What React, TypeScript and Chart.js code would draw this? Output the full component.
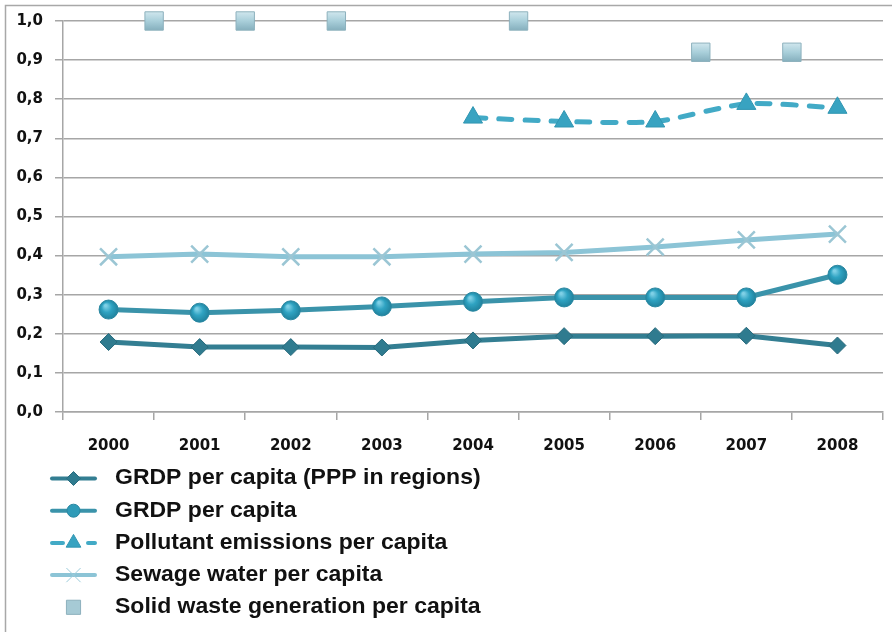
import React, { useEffect, useRef } from 'react';
import { Chart, registerables } from 'chart.js';
import { drawPoint } from 'chart.js/helpers';

Chart.register(...registerables);

// ---- data ----
const years = [2000, 2001, 2002, 2003, 2004, 2005, 2006, 2007, 2008];
const grdpPppValues = [0.179, 0.166, 0.166, 0.165, 0.183, 0.194, 0.194, 0.195, 0.17];
const grdpValues = [0.262, 0.254, 0.26, 0.27, 0.282, 0.293, 0.293, 0.293, 0.351];
const pollutantYears = [2004, 2005, 2006, 2007, 2008];
const pollutantValues = [0.753, 0.743, 0.743, 0.788, 0.778];
const sewageValues = [0.397, 0.404, 0.397, 0.397, 0.404, 0.408, 0.422, 0.44, 0.455];
const solidWasteYears = [2000.5, 2001.5, 2002.5, 2004.5, 2006.5, 2007.5];
const solidWasteValues = [1.0, 1.0, 1.0, 1.0, 0.92, 0.92];
const seriesNames = [
  'GRDP per capita (PPP in regions)',
  'GRDP per capita',
  'Pollutant emissions per capita',
  'Sewage water per capita',
  'Solid waste generation per capita',
];
const yMin = 0;
const yMax = 1;
const yStep = 0.1;

const toPoints = (xs: number[], ys: number[]) => xs.map((x, i) => ({ x, y: ys[i] }));

const W = 892;
const H = 632;

const legendStyles = [
  { color: '#337e92', dash: [] as number[], pointStyle: 'rectRot', radius: 7, fill: '#2f7b8f', border: '#2a6d80', showLine: true },
  { color: '#3a93aa', dash: [] as number[], pointStyle: 'circle', radius: 6.5, fill: '#2f9bb8', border: '#2a88a2', showLine: true },
  { color: '#42aac6', dash: [11, 25], pointStyle: 'triangle', radius: 8.5, fill: '#38a3c1', border: '#3196b2', showLine: true },
  { color: '#8cc4d6', dash: [] as number[], pointStyle: 'crossRot', radius: 10, fill: '#9cccdb', border: '#9cccdb', showLine: true },
  { color: '#a6cad5', dash: [] as number[], pointStyle: 'rect', radius: 10, fill: '#a6cad5', border: '#8db1bd', showLine: false },
];

const pointPixel = (c: any) => {
  const chart = c.chart;
  const p = c.parsed;
  if (!p || !chart || !chart.scales || !chart.scales.x || !chart.scales.y) return null;
  const x = chart.scales.x.getPixelForValue(p.x);
  const y = chart.scales.y.getPixelForValue(p.y);
  if (!Number.isFinite(x) || !Number.isFinite(y)) return null;
  return { x, y };
};

const circleFill = (c: any) => {
  const pp = pointPixel(c);
  if (!pp) return '#2f9bb8';
  const g = c.chart.ctx.createRadialGradient(pp.x - 3, pp.y - 4, 1, pp.x, pp.y, 10);
  g.addColorStop(0, '#7fd0e6');
  g.addColorStop(0.45, '#2fa3c2');
  g.addColorStop(1, '#1f7f9a');
  return g;
};

const squareFill = (c: any) => {
  const pp = pointPixel(c);
  if (!pp) return '#a6cad5';
  const g = c.chart.ctx.createLinearGradient(pp.x, pp.y - 9, pp.x, pp.y + 9);
  g.addColorStop(0, '#cfe6ed');
  g.addColorStop(0.5, '#a9cfda');
  g.addColorStop(1, '#86b0be');
  return g;
};

const framePlugin = {
  id: 'frame',
  beforeDraw(chart: any) {
    const ctx = chart.ctx;
    ctx.save();
    ctx.fillStyle = '#ffffff';
    ctx.fillRect(0, 0, W, H);
    ctx.strokeStyle = '#a8a8a8';
    ctx.lineWidth = 1.5;
    ctx.beginPath();
    ctx.moveTo(5.5, H);
    ctx.lineTo(5.5, 5.5);
    ctx.lineTo(W, 5.5);
    ctx.stroke();
    ctx.restore();
  },
};

const legendPlugin = {
  id: 'vlegend',
  afterDraw(chart: any) {
    const ctx = chart.ctx;
    ctx.save();
    ctx.beginPath();
    ctx.rect(0, 0, W, 618);
    ctx.clip();
    const rowY0 = 478.5;
    const rowGap = 32.2;
    seriesNames.forEach((name, i) => {
      const st = legendStyles[i];
      const y = rowY0 + i * rowGap;
      const x0 = 50;
      const x1 = 97;
      const cx = (x0 + x1) / 2;
      if (st.showLine) {
        ctx.save();
        ctx.strokeStyle = st.color;
        ctx.lineWidth = 4;
        ctx.lineCap = 'round';
        ctx.setLineDash(st.dash);
        ctx.beginPath();
        ctx.moveTo(x0 + 2, y);
        ctx.lineTo(x1 - 2, y);
        ctx.stroke();
        ctx.restore();
      }
      ctx.save();
      ctx.fillStyle = st.fill;
      ctx.strokeStyle = st.border;
      drawPoint(ctx, { pointStyle: st.pointStyle as any, rotation: 0, radius: st.radius, borderWidth: st.pointStyle === 'crossRot' ? 2.5 : 1 }, cx, y);
      ctx.restore();
      ctx.save();
      ctx.fillStyle = '#111111';
      ctx.font = 'bold 21.5px "Liberation Sans", Arial, sans-serif';
      ctx.textBaseline = 'middle';
      ctx.textAlign = 'left';
      ctx.translate(115, y);
      ctx.scale(1.07, 1);
      ctx.fillText(name, 0, 0);
      ctx.restore();
    });
    ctx.restore();
  },
};

export default function App() {
  const canvasRef = useRef<HTMLCanvasElement | null>(null);

  useEffect(() => {
    const canvas = canvasRef.current;
    if (!canvas) return;
    const chart = new Chart(canvas, {
      type: 'line',
      data: {
        datasets: [
          {
            label: seriesNames[0],
            data: toPoints(years, grdpPppValues),
            borderColor: '#337e92',
            borderWidth: 5,
            pointStyle: 'rectRot',
            pointRadius: 8.5,
            pointBackgroundColor: '#2f7b8f',
            pointBorderColor: '#286a7c',
            pointBorderWidth: 1,
            clip: false,
            order: 4,
          },
          {
            label: seriesNames[1],
            data: toPoints(years, grdpValues),
            borderColor: '#3a93aa',
            borderWidth: 5,
            pointStyle: 'circle',
            pointRadius: 9.5,
            pointBackgroundColor: circleFill,
            pointBorderColor: '#2a88a2',
            pointBorderWidth: 1,
            clip: false,
            order: 3,
          },
          {
            label: seriesNames[2],
            data: toPoints(pollutantYears, pollutantValues),
            borderColor: '#42aac6',
            borderWidth: 5,
            borderDash: [13, 13],
            borderCapStyle: 'round',
            tension: 0.25,
            pointStyle: 'triangle',
            pointRadius: 11,
            pointBackgroundColor: '#38a3c1',
            pointBorderColor: '#3196b2',
            pointBorderWidth: 1,
            clip: false,
            order: 2,
          },
          {
            label: seriesNames[3],
            data: toPoints(years, sewageValues),
            borderColor: '#8cc4d6',
            borderWidth: 5,
            pointStyle: 'crossRot',
            pointRadius: 12,
            pointBorderColor: '#9bc6d4',
            pointBackgroundColor: '#9bc6d4',
            pointBorderWidth: 2.5,
            clip: false,
            order: 5,
          },
          {
            label: seriesNames[4],
            data: toPoints(solidWasteYears, solidWasteValues),
            showLine: false,
            borderColor: '#8db1bd',
            pointStyle: 'rect',
            pointRadius: 13,
            pointBackgroundColor: squareFill,
            pointBorderColor: '#8db1bd',
            pointBorderWidth: 1,
            clip: false,
            order: 1,
          },
        ] as any,
      },
      options: {
        responsive: false,
        animation: false,
        devicePixelRatio: 1,
        layout: { autoPadding: false, padding: { left: 5, top: 19, right: 9, bottom: 180 } },
        plugins: {
          legend: { display: false },
          tooltip: { enabled: false },
          title: { display: false },
        },
        scales: {
          x: {
            type: 'linear',
            min: years[0] - 0.5,
            max: years[years.length - 1] + 0.5,
            afterBuildTicks: (scale: any) => {
              const ticks: any[] = [];
              for (let v = years[0] - 0.5; v <= years[years.length - 1] + 0.5 + 1e-9; v += 0.5) {
                ticks.push({ value: Math.round(v * 10) / 10 });
              }
              scale.ticks = ticks;
            },
            afterFit: (scale: any) => {
              scale.height = 40;
              scale.paddingLeft = 0;
              scale.paddingRight = 0;
            },
            grid: {
              drawOnChartArea: false,
              drawTicks: true,
              tickLength: 8,
              lineWidth: 1.5,
              color: (ctx: any) => (ctx.tick && Number.isInteger(ctx.tick.value) ? 'rgba(0,0,0,0)' : '#a6a6a6'),
            },
            border: { display: true, color: '#a6a6a6', width: 1.5 },
            ticks: {
              autoSkip: false,
              maxRotation: 0,
              padding: 17,
              color: '#111111',
              font: { family: '"DejaVu Sans", Verdana, sans-serif', size: 15, weight: 'bold' },
              callback: (v: any) => (Number.isInteger(v) ? String(v) : ''),
            },
          },
          y: {
            min: yMin,
            max: yMax,
            afterFit: (scale: any) => {
              scale.width = 58;
            },
            grid: {
              color: '#a6a6a6',
              lineWidth: 1.5,
              tickLength: 8,
              drawTicks: true,
            },
            border: { display: true, color: '#a6a6a6', width: 1.5 },
            ticks: {
              stepSize: yStep,
              padding: 12,
              color: '#111111',
              font: { family: '"DejaVu Sans", Verdana, sans-serif', size: 15, weight: 'bold' },
              callback: (v: any) => Number(v).toFixed(1).replace('.', ','),
            },
          },
        },
      } as any,
      plugins: [framePlugin, legendPlugin],
    });
    return () => chart.destroy();
  }, []);

  return (
    <div style={{ position: 'fixed', left: 0, top: 0, width: W, height: H, background: '#fff' }}>
      <canvas ref={canvasRef} width={W} height={H} style={{ width: W, height: H, display: 'block' }} />
    </div>
  );
}
